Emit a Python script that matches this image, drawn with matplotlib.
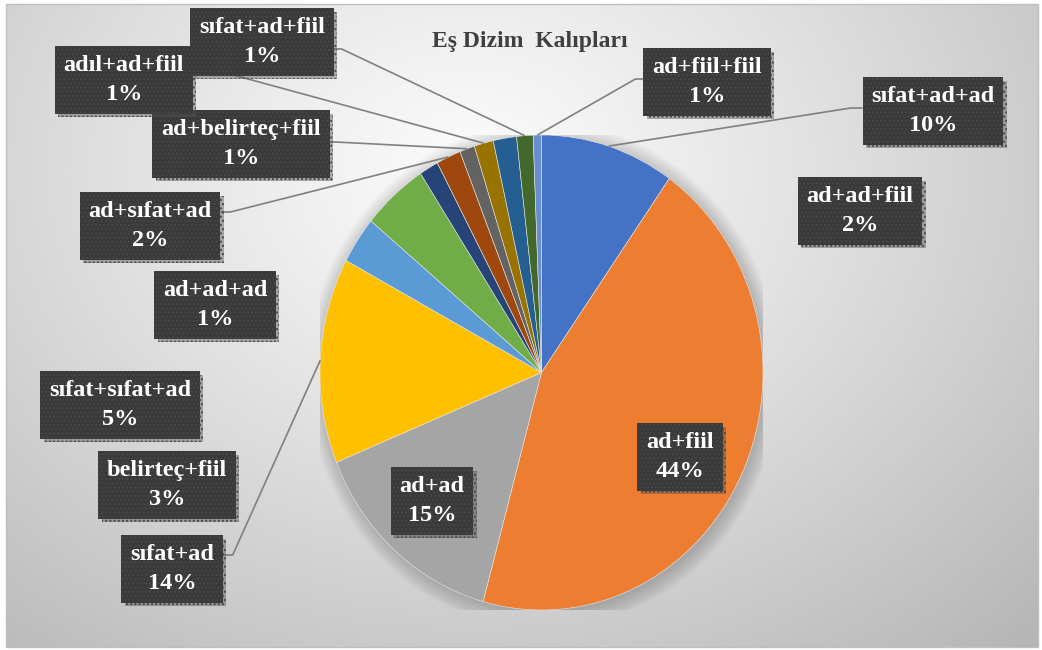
import numpy as np
import matplotlib
matplotlib.use("Agg")
import matplotlib.pyplot as plt
from matplotlib.patches import Rectangle, Ellipse
import matplotlib.patheffects as pe

# ---------------- data ----------------
categories = ["sıfat+ad+ad", "ad+fiil", "ad+ad", "sıfat+ad", "belirteç+fiil",
              "sıfat+sıfat+ad", "ad+ad+ad", "ad+sıfat+ad", "ad+belirteç+fiil",
              "adıl+ad+fiil", "ad+ad+fiil", "sıfat+ad+fiil", "ad+fiil+fiil"]
values = [9.8, 44.5, 14.6, 14.0, 3.2, 4.8, 1.4, 1.8, 1.1, 1.4, 1.7, 1.2, 0.6]
pct_labels = ["10%", "44%", "15%", "14%", "3%", "5%", "1%", "2%", "1%",
              "1%", "2%", "1%", "1%"]
title = "Eş Dizim  Kalıpları"

colors = ["#4472C4", "#ED7D31", "#A5A5A5", "#FFC000", "#5B9BD5", "#70AD47",
          "#264478", "#9E480E", "#636363", "#997300", "#255E91", "#43682B",
          "#698ED0"]

# label layout (pixel coords, y down): box centre, leader side, anchor dy, stub
label_pos = [(933, 111), (680, 457), (432, 501), (172, 569), (167, 485),
             (120, 405), (215, 305), (150, 226), (241, 144), (124, 80),
             (860, 211), (262, 42), (707, 82)]
leader = {0: ("left", -3, 12), 3: ("right", -14, 10), 7: ("right", -14, 10),
          8: ("right", -2, 6), 9: ("right", -16, 0), 11: ("right", 7, 8),
          12: ("left", -3, 8)}

W, H = 1042, 650
fig = plt.figure(figsize=(W / 100, H / 100), dpi=100)
fig.patch.set_facecolor("white")

# ---------------- background ----------------
bg = fig.add_axes([0, 0, 1, 1])
bg.set_xlim(0, W)
bg.set_ylim(H, 0)
bg.axis("off")
x0, y0, x1, y1 = 6, 4, 1038, 647
xx, yy = np.meshgrid(np.arange(x0, x1), np.arange(y0, y1))
d = np.sqrt(((xx - 470) / 700.0) ** 2 + ((yy - 170) / 560.0) ** 2)
g = np.clip(0.985 - 0.23 * d ** 1.15, 0, 1)
img = np.dstack([g, g, g])
bg.imshow(img, extent=(x0, x1, y1, y0), interpolation="bilinear", zorder=0)
bg.add_patch(Rectangle((x0, y0), x1 - x0, y1 - y0, fill=False,
                       edgecolor="#bfbfbf", lw=1.0, zorder=1))

# ---------------- pie ----------------
cx, cy, rx, ry = 541.5, 372.5, 221.5, 237.5
pax = fig.add_axes([(cx - rx) / W, 1 - (cy + ry) / H, 2 * rx / W, 2 * ry / H])
pax.set_facecolor("none")

# soft shadow behind the pie
for i in range(12):
    pax.add_patch(Ellipse((0.01, -0.012), 2 + 0.012 * i, 2 + 0.012 * i,
                          facecolor="#000000", alpha=0.016, lw=0, zorder=0))

wedges, _ = pax.pie(values, colors=colors, startangle=90, counterclock=False,
                    radius=1, wedgeprops=dict(edgecolor="#e8e8e8", linewidth=0.4))
for w_ in wedges:
    w_.set_zorder(2)
pax.set_xlim(-1, 1)
pax.set_ylim(-1, 1)
pax.set_aspect("auto")
pax.axis("off")

# ---------------- overlay ----------------
ov = fig.add_axes([0, 0, 1, 1])
ov.set_xlim(0, W)
ov.set_ylim(H, 0)
ov.axis("off")
ov.set_facecolor("none")

ov.text(530, 42, title, ha="center", va="center", fontsize=17,
        fontweight="bold", family="Liberation Serif", color="#404040", zorder=5)

texts = []
for i, (cat, pl) in enumerate(zip(categories, pct_labels)):
    x, y = label_pos[i]
    t = ov.text(x, y, f"{cat}\n{pl}", ha="center", va="center",
                multialignment="center", fontsize=17.5, fontweight="bold",
                family="Liberation Serif", color="white", linespacing=1.5,
                zorder=6,
                bbox=dict(boxstyle="square,pad=0.36", facecolor="#3a3a3a",
                          edgecolor="#474747", hatch="....", linewidth=0))
    t.get_bbox_patch().set_path_effects(
        [pe.SimplePatchShadow(offset=(2.5, -2.5), shadow_rgbFace="#555555",
                              alpha=0.45), pe.Normal()])
    texts.append(t)

fig.canvas.draw()
renderer = fig.canvas.get_renderer()
inv = ov.transData.inverted()
for i, (side, dy, stub) in leader.items():
    w_ = wedges[i]
    mid = np.deg2rad((w_.theta1 + w_.theta2) / 2.0)
    ex, ey = inv.transform(pax.transData.transform((np.cos(mid), np.sin(mid))))
    bb = texts[i].get_bbox_patch().get_window_extent(renderer)
    (bx0, by0), (bx1, by1) = inv.transform([(bb.x0, bb.y0), (bb.x1, bb.y1)])
    ycen = (by0 + by1) / 2.0 + dy
    if side == "left":
        ax_ = bx0
        sx = ax_ - stub
    else:
        ax_ = bx1
        sx = ax_ + stub
    ov.plot([ax_, sx, ex], [ycen, ycen, ey], color="#808080", lw=1.2,
            zorder=4, solid_capstyle="butt")

fig.savefig("out.png", dpi=100)
